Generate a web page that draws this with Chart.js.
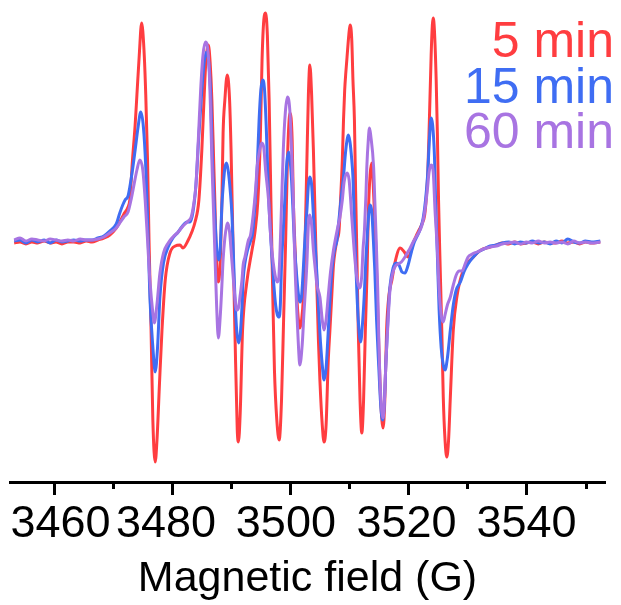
<!DOCTYPE html>
<html>
<head>
<meta charset="utf-8">
<title>EPR spectra</title>
<script src="https://cdn.jsdelivr.net/npm/chart.js@4.4.1/dist/chart.umd.min.js"></script>
<style>
  html, body { margin: 0; padding: 0; background: #fff; }
  #wrap { width: 621px; height: 605px; position: relative; }
</style>
</head>
<body>
<div id="wrap"><canvas id="epr"></canvas></div>
<script>
/* ---------- spectra (field in G, signal in a.u.) ---------- */

const field5 = [
  3453.2, 3454.2, 3455.2, 3456.2, 3457.2, 3458.3, 3459.3, 3460.3, 3461.3, 3462.3,
  3463.3, 3464.4, 3465.4, 3466.4, 3467.4, 3468.4, 3469.4, 3470.5, 3471.1, 3471.8,
  3472.5, 3472.8, 3473.25, 3473.7, 3474.0, 3474.4, 3474.8, 3475.2, 3475.5, 3475.8,
  3476.05, 3476.4, 3476.7, 3477.1, 3477.4, 3477.85, 3478.25, 3478.8, 3479.6, 3480.5,
  3481.3, 3481.8, 3482.7, 3483.3, 3483.85, 3484.5, 3485.0, 3485.4, 3485.7, 3486.1,
  3486.4, 3486.7, 3487.0, 3487.2, 3487.5, 3487.8, 3488.1, 3488.4, 3488.6, 3488.9,
  3489.3, 3489.7, 3489.95, 3490.3, 3490.6, 3491.0, 3491.2, 3491.5, 3491.9, 3492.6,
  3493.5, 3494.0, 3494.5, 3494.9, 3495.2, 3495.5, 3495.8, 3496.1, 3496.4, 3496.7,
  3497.0, 3497.3, 3497.7, 3498.1, 3498.5, 3498.85, 3499.2, 3499.5, 3499.95, 3500.3,
  3500.5, 3500.8, 3501.1, 3501.4, 3501.6, 3501.9, 3502.2, 3502.5, 3502.8, 3503.05,
  3503.3, 3503.6, 3503.9, 3504.2, 3504.5, 3504.75, 3505.0, 3505.4, 3505.7, 3506.05,
  3506.4, 3506.7, 3507.0, 3507.3, 3507.6, 3507.9, 3508.25, 3508.5, 3508.8, 3509.0,
  3509.2, 3509.4, 3509.6, 3509.9, 3510.1, 3510.4, 3510.6, 3510.85, 3511.05, 3511.25,
  3511.5, 3511.8, 3512.1, 3512.4, 3512.7, 3513.0, 3513.2, 3513.5, 3513.8, 3514.0,
  3514.2, 3514.5, 3514.9, 3515.3, 3515.7, 3516.0, 3516.3, 3516.7, 3517.2, 3517.7,
  3518.6, 3519.3, 3519.95, 3520.5, 3520.8, 3521.3, 3521.8, 3522.3, 3522.75, 3523.0,
  3523.3, 3523.55, 3523.85, 3524.05, 3524.2, 3524.4, 3524.7, 3524.9, 3525.1, 3525.3,
  3525.65, 3525.9, 3526.2, 3526.5, 3526.8, 3527.1, 3527.6, 3528.2, 3529.3, 3531.0,
  3532.3, 3533.85, 3534.9, 3535.9, 3537, 3538, 3539, 3540, 3541, 3542,
  3543, 3544, 3545, 3546, 3547, 3548, 3549, 3550, 3551, 3552.5
];
const signal5 = [
  -2, -1, -3, -1, -2, 0, -2, -1, -3, -1,
  -1, -2, 0, -1, 1, 3, 6, 13, 19, 27,
  34, 41, 81, 116, 146, 186, 218, 191, 146, 81,
  1, -89, -179, -221, -199, -139, -89, -39, -12, -5,
  -4, -7, 1, 9, 19, 41, 91, 146, 181, 196,
  179, 141, 81, 41, -22, -41, -22, 41, 108, 141,
  166, 141, 91, -9, -89, -189, -201, -172, -89, -42,
  -9, 9, 41, 101, 181, 221, 228, 206, 141, 41,
  -49, -129, -179, -199, -159, -79, 1, 81, 128, 101,
  41, -9, -56, -81, -87, -79, -56, 1, 81, 146,
  176, 146, 91, 21, -49, -99, -139, -184, -201, -184,
  -122, -89, -56, -24, -9, 1, 11, 41, 81, 121,
  151, 169, 184, 206, 216, 201, 161, 121, 51, -9,
  -89, -159, -192, -159, -89, -29, 26, 66, 78, 61,
  34, -9, -89, -159, -187, -159, -89, -54, -39, -22,
  -7, -11, -16, -9, -2, 5, 11, 17, 26, 41,
  71, 121, 186, 216, 223, 211, 161, 108, 41, -9,
  -89, -156, -199, -216, -199, -156, -89, -56, -29, -16,
  -9, -6, -4, -2, -3, -1, -3, -2, -1, -3,
  -1, -2, -2, 0, -2, -1, -3, -1, -2, -1
];

const field15 = [
  3453.2, 3454.2, 3455.2, 3456.2, 3457.2, 3458.3, 3459.3, 3460.3, 3461.3, 3462.3,
  3463.3, 3464.4, 3465.4, 3466.4, 3467.4, 3468.4, 3469.4, 3470.5, 3471.1, 3471.6,
  3472.0, 3472.5, 3472.8, 3473.25, 3473.7, 3474.2, 3474.65, 3475.1, 3475.5, 3475.8,
  3476.2, 3476.7, 3477.1, 3477.5, 3477.9, 3478.5, 3479.3, 3480.1, 3481.0, 3481.6,
  3482.5, 3483.0, 3483.5, 3484.0, 3484.5, 3485.0, 3485.4, 3485.8, 3486.1, 3486.5,
  3486.8, 3487.2, 3487.5, 3487.8, 3488.1, 3488.4, 3488.7, 3488.9, 3489.2, 3489.5,
  3489.8, 3490.1, 3490.35, 3490.6, 3490.9, 3491.2, 3491.5, 3491.8, 3492.0, 3492.3,
  3492.75, 3493.2, 3493.6, 3494.0, 3494.4, 3494.7, 3495.0, 3495.3, 3495.6, 3495.9,
  3496.3, 3496.6, 3496.85, 3497.2, 3497.5, 3497.8, 3498.1, 3498.3, 3498.5, 3498.8,
  3499.1, 3499.4, 3499.7, 3499.95, 3500.2, 3500.4, 3500.7, 3501.1, 3501.4, 3501.6,
  3501.9, 3502.2, 3502.5, 3502.8, 3503.05, 3503.3, 3503.6, 3503.9, 3504.2, 3504.5,
  3504.75, 3505.0, 3505.4, 3505.7, 3506.05, 3506.4, 3506.7, 3507.0, 3507.3, 3507.6,
  3507.9, 3508.1, 3508.4, 3508.7, 3509.0, 3509.3, 3509.6, 3509.8, 3510.1, 3510.4,
  3510.6, 3511.0, 3511.25, 3511.5, 3511.9, 3512.2, 3512.5, 3512.8, 3513.05, 3513.3,
  3513.5, 3513.8, 3514.0, 3514.3, 3514.6, 3515.0, 3515.3, 3515.6, 3515.9, 3516.2,
  3516.6, 3516.9, 3517.4, 3517.9, 3518.4, 3518.9, 3519.4, 3519.95, 3520.5, 3521.0,
  3521.5, 3522.0, 3522.5, 3522.9, 3523.25, 3523.55, 3523.85, 3524.1, 3524.4, 3524.6,
  3524.9, 3525.2, 3525.55, 3525.9, 3526.2, 3526.6, 3527.1, 3527.6, 3528.1, 3528.8,
  3529.4, 3530.1, 3531.0, 3531.8, 3532.8, 3533.85, 3534.9, 3535.9, 3537, 3538,
  3539, 3540, 3541, 3542, 3543, 3544, 3545, 3546, 3547, 3548,
  3549, 3550, 3551, 3552.5
];
const signal15 = [
  0, 1, -2, 1, -1, 1, -2, 1, -1, 0,
  1, 0, 1, 1, 3, 5, 10, 17, 28, 36,
  41, 45, 54, 71, 91, 114, 129, 114, 74, 24,
  -56, -106, -131, -106, -56, -22, -6, 3, 9, 14,
  19, 19, 29, 56, 106, 151, 179, 189, 183, 146,
  81, 26, -6, -19, -9, 36, 61, 73, 78, 69,
  51, 26, -14, -56, -89, -102, -94, -66, -39, -22,
  -9, -1, 8, 36, 76, 121, 151, 161, 153, 116,
  46, 11, -14, -44, -64, -74, -76, -64, -24, 11,
  46, 79, 89, 81, 61, 36, -4, -37, -55, -61,
  -55, -27, 6, 31, 56, 64, 56, 26, -4, -34,
  -64, -92, -124, -139, -127, -92, -59, -32, -15, -6,
  1, 14, 31, 49, 64, 86, 101, 106, 99, 81,
  64, -9, -49, -79, -101, -84, -56, -17, 8, 29,
  36, 29, 8, -29, -79, -129, -164, -179, -164, -119,
  -69, -44, -27, -22, -24, -31, -32, -24, -11, -1,
  5, 12, 23, 41, 66, 101, 123, 116, 86, 41,
  -14, -69, -107, -124, -129, -117, -89, -64, -49, -41,
  -31, -23, -16, -11, -8, -5, -4, -2, -1, -3,
  -1, -2, 0, -2, -1, -3, 0, -2, 2, -1,
  -2, 0, -1, 0
];

const field60 = [
  3453.2, 3454.2, 3455.2, 3456.2, 3457.2, 3458.3, 3459.3, 3460.3, 3461.3, 3462.3,
  3463.3, 3464.4, 3465.4, 3466.4, 3467.4, 3468.4, 3469.4, 3470.5, 3471.1, 3471.8,
  3472.5, 3473.0, 3473.5, 3474.0, 3474.5, 3475.0, 3475.4, 3475.8, 3476.2, 3476.7,
  3476.95, 3477.35, 3477.9, 3478.5, 3479.3, 3480.1, 3481.0, 3481.8, 3482.7, 3483.2,
  3483.6, 3484.0, 3484.4, 3484.8, 3485.2, 3485.6, 3485.9, 3486.2, 3486.45, 3486.7,
  3487.0, 3487.25, 3487.5, 3487.8, 3488.1, 3488.4, 3488.6, 3488.9, 3489.2, 3489.4,
  3489.7, 3489.95, 3490.35, 3490.6, 3490.9, 3491.2, 3491.5, 3491.8, 3492.0, 3492.3,
  3492.9, 3493.25, 3493.7, 3494.1, 3494.4, 3494.8, 3495.15, 3495.5, 3495.8, 3496.3,
  3496.7, 3497.1, 3497.4, 3497.75, 3498.0, 3498.25, 3498.5, 3498.8, 3499.15, 3499.5,
  3499.9, 3500.2, 3500.5, 3500.7, 3501.1, 3501.4, 3501.6, 3502.0, 3502.3, 3502.6,
  3502.8, 3503.05, 3503.3, 3503.6, 3503.9, 3504.2, 3504.5, 3505.0, 3505.4, 3505.7,
  3506.05, 3506.4, 3506.8, 3507.3, 3507.6, 3508.0, 3508.4, 3508.8, 3509.1, 3509.6,
  3509.95, 3510.4, 3510.8, 3511.2, 3511.7, 3512.1, 3512.3, 3512.55, 3512.8, 3512.95,
  3513.2, 3513.4, 3513.6, 3514.1, 3514.3, 3514.5, 3514.8, 3515.0, 3515.3, 3515.7,
  3515.9, 3516.2, 3516.6, 3516.9, 3517.3, 3517.7, 3518.25, 3518.8, 3519.3, 3519.8,
  3520.3, 3520.8, 3521.3, 3521.8, 3522.3, 3522.75, 3523.2, 3523.5, 3523.85, 3524.2,
  3524.5, 3524.9, 3525.2, 3525.55, 3525.9, 3526.2, 3526.6, 3527.1, 3527.6, 3528.1,
  3528.6, 3529.1, 3529.6, 3530.1, 3530.8, 3531.6, 3532.7, 3533.85, 3534.9, 3535.9,
  3537, 3538, 3539, 3540, 3541, 3542, 3543, 3544, 3545, 3546,
  3547, 3548, 3549, 3550, 3551, 3552.5
];
const signal60 = [
  1, 3, 0, 2, 1, 0, 2, 1, 0, 1,
  0, 2, 1, 1, 2, 4, 8, 13, 18, 24,
  29, 41, 56, 71, 81, 71, 41, 1, -39, -72,
  -82, -66, -32, -12, -2, 4, 9, 15, 20, 24,
  36, 56, 101, 151, 186, 199, 196, 176, 136, 81,
  26, -19, -64, -97, -77, -44, -19, 3, 15, 18,
  9, -9, -39, -56, -69, -67, -54, -39, -24, -16,
  1, 6, 26, 51, 76, 91, 98, 93, 71, 41,
  1, -22, -34, -41, -39, -9, 36, 91, 129, 144,
  131, 91, 41, -9, -72, -109, -124, -104, -72, -44,
  -22, 16, 26, 16, -9, -27, -44, -56, -79, -89,
  -79, -56, -31, -9, 1, 13, 24, 41, 59, 68,
  61, 24, -9, -34, -47, -34, -9, 11, 46, 74,
  101, 113, 106, 74, 41, 8, -49, -104, -154, -177,
  -164, -119, -74, -47, -33, -26, -23, -21, -17, -12,
  -7, -1, 4, 9, 16, 29, 51, 69, 76, 69,
  31, -9, -49, -74, -81, -74, -64, -56, -44, -34,
  -30, -30, -23, -16, -13, -11, -8, -6, -5, -3,
  -2, -1, -3, -1, -2, 0, -2, -1, -2, -1,
  -3, 0, -2, -1, -2, -1
];

const seriesLabels = ['5 min', '15 min', '60 min'];
const seriesColors = ['#ff3d40', '#3f6df3', '#a874e2'];

const fieldMin = 3452.5;
const fieldMax = 3553.3;
const majorTicks = [3460, 3480, 3500, 3520, 3540];
const minorTicks = [3470, 3490, 3510, 3530, 3550];

// labels sit a little off-centre in places; padding with spaces nudges them
const labelPad = { 3460: [' ', ''], 3480: ['', ' '], 3500: ['', '\u2009'], 3520: ['', '\u200a'] };

const FONT = "'Liberation Sans', Arial, Helvetica, sans-serif";

const toPoints = (xs, ys) => xs.map((x, i) => ({ x, y: ys[i] }));

/* minor ticks: half-length marks between the labelled ones */
const minorTickPlugin = {
  id: 'minorTicks',
  afterDraw(chart) {
    const sc = chart.scales.x;
    const ctx = chart.ctx;
    ctx.save();
    ctx.strokeStyle = '#000';
    ctx.lineWidth = 3;
    minorTicks.forEach(v => {
      const px = Math.round(sc.getPixelForValue(v)) + 0.5;
      ctx.beginPath();
      ctx.moveTo(px, sc.top);
      ctx.lineTo(px, sc.top + 7);
      ctx.stroke();
    });
    ctx.restore();
  }
};

/* coloured text legend, stacked in the top-right corner */
const cornerLegend = {
  id: 'cornerLegend',
  afterDraw(chart) {
    const ctx = chart.ctx;
    ctx.save();
    ctx.font = `50px ${FONT}`;
    ctx.textAlign = 'right';
    ctx.textBaseline = 'alphabetic';
    chart.data.datasets.forEach((ds, i) => {
      ctx.fillStyle = ds.borderColor;
      ctx.fillText(ds.label, 614, 57 + i * 45.5);
    });
    ctx.restore();
  }
};

const spectra = [field5, field15, field60];
const signals = [signal5, signal15, signal60];

new Chart(document.getElementById('epr'), {
  type: 'line',
  data: {
    datasets: seriesLabels.map((label, i) => ({
      label,
      data: toPoints(spectra[i], signals[i]),
      borderColor: seriesColors[i],
      borderWidth: 3,
      pointRadius: 0,
      fill: false,
      cubicInterpolationMode: 'monotone',
      order: 3 - i            // 60 min on top, 5 min underneath
    }))
  },
  options: {
    responsive: true,
    maintainAspectRatio: false,
    animation: false,
    layout: { padding: { left: 10, right: 16, top: 0, bottom: 0 } },
    plugins: {
      legend: { display: false },
      tooltip: { enabled: false }
    },
    scales: {
      x: {
        type: 'linear',
        min: fieldMin,
        max: fieldMax,
        afterBuildTicks: sc => { sc.ticks = majorTicks.map(v => ({ value: v })); },
        afterFit: sc => {
          sc.height = 123;
          sc.paddingLeft = 0;     // keep the axis ends fixed regardless of label width
          sc.paddingRight = 0;
        },
        border: { display: true, color: '#000', width: 3 },
        grid: {
          drawOnChartArea: false,
          drawTicks: true,
          tickLength: 13,
          tickWidth: 3,
          tickColor: '#000'
        },
        ticks: {
          color: '#000',
          padding: 3,
          maxRotation: 0,
          autoSkip: false,
          font: { family: FONT, size: 45 },
          callback: v => {
            const [pre, post] = labelPad[v] || ['', ''];
            return pre + v + post;
          }
        },
        title: {
          display: true,
          text: 'Magnetic field (G)',
          color: '#000',
          padding: { top: 0, bottom: 0 },
          font: { family: FONT, size: 43 }
        }
      },
      y: {
        display: false,
        min: -241,
        max: 241
      }
    }
  },
  plugins: [minorTickPlugin, cornerLegend]
});
</script>
</body>
</html>
